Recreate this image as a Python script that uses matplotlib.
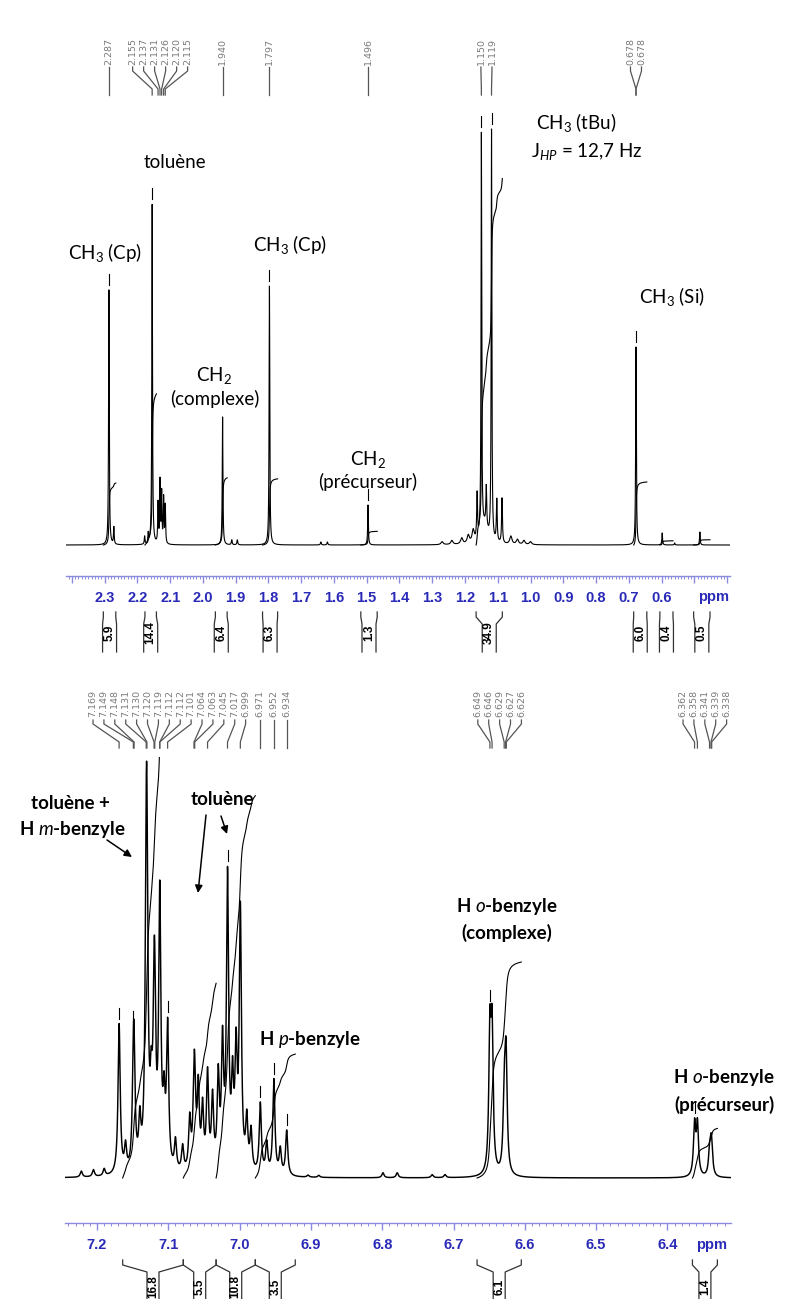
import numpy as np
import matplotlib
matplotlib.use("Agg")
import matplotlib.pyplot as plt
from matplotlib.transforms import Affine2D
from matplotlib.ticker import MultipleLocator

W, H = 788, 1299
plt.rcParams['font.family'] = ['Lato', 'DejaVu Sans']
plt.rcParams['mathtext.fontset'] = 'custom'
plt.rcParams['mathtext.rm'] = 'Lato'
plt.rcParams['mathtext.it'] = 'Lato:italic'
plt.rcParams['mathtext.bf'] = 'Lato:bold'

# ---------------- top spectrum (aliphatic region) ----------------
top_ppm = [2.287, 2.272, 2.178, 2.167, 2.155, 2.137, 2.131, 2.126, 2.120, 2.115,
           1.940, 1.912, 1.895, 1.797, 1.640, 1.620, 1.496, 1.270, 1.240, 1.210,
           1.190, 1.175, 1.163, 1.150, 1.140, 1.135, 1.119, 1.103, 1.087, 1.060,
           1.040, 1.020, 1.000, 0.678, 0.598, 0.560, 0.483]
top_height = [255, 17, 8, 10, 340, 40, 62, 50, 45, 38,
              128, 5, 5, 259, 3, 3, 40, 3, 4, 6,
              8, 12, 45, 400, 18, 40, 410, 42, 45, 8,
              5, 4, 3, 198, 12, 2, 13]
top_width = [0.0012, 0.0012, 0.0012, 0.0012, 0.0012, 0.0012, 0.0012, 0.0012, 0.0012, 0.0012,
             0.0012, 0.0015, 0.0015, 0.0012, 0.0015, 0.0015, 0.0012, 0.004, 0.004, 0.004,
             0.004, 0.004, 0.0015, 0.0012, 0.012, 0.0015, 0.0012, 0.0015, 0.0015, 0.004,
             0.004, 0.004, 0.004, 0.0012, 0.0012, 0.0012, 0.0012]
top_pick = ['2.287', '2.155', '2.137', '2.131', '2.126', '2.120', '2.115',
            '1.940', '1.797', '1.496', '1.150', '1.119', '0.678', '0.678']
top_markers = [2.287, 2.155, 1.797, 1.496, 1.150, 1.119, 0.678]
top_int_hi = [2.304, 2.177, 1.962, 1.818, 1.518, 1.166, 0.685, 0.605, 0.502]
top_int_lo = [2.266, 2.142, 1.926, 1.772, 1.468, 1.086, 0.645, 0.565, 0.452]
top_int_val = [5.9, 14.4, 6.4, 6.3, 1.3, 34.9, 6.0, 0.4, 0.5]
top_ticklabels = [2.3, 2.2, 2.1, 2.0, 1.9, 1.8, 1.7, 1.6, 1.5, 1.4, 1.3, 1.2,
                  1.1, 1.0, 0.9, 0.8, 0.7, 0.6]

# ---------------- bottom spectrum (aromatic region) ----------------
bot_ppm = [7.222, 7.205, 7.190, 7.169, 7.160, 7.149, 7.148, 7.140, 7.131, 7.130,
           7.124, 7.120, 7.119, 7.112, 7.106, 7.101, 7.090, 7.080, 7.070, 7.064,
           7.063, 7.058, 7.052, 7.045, 7.038, 7.030, 7.024, 7.017, 7.010, 7.005,
           6.999, 6.990, 6.984, 6.971, 6.962, 6.952, 6.943, 6.934, 6.904, 6.889,
           6.799, 6.779, 6.730, 6.712, 6.649, 6.646, 6.629, 6.627, 6.626, 6.362,
           6.358, 6.341, 6.339, 6.338]
bot_height = [6, 7, 7, 150, 25, 80, 80, 45, 215, 215,
              60, 110, 110, 270, 60, 140, 30, 25, 50, 60,
              60, 80, 60, 95, 70, 90, 120, 290, 80, 110,
              258, 50, 40, 70, 30, 95, 25, 45, 2, 2,
              5, 5, 3, 3, 135, 135, 63, 63, 63, 51,
              51, 20, 20, 20]
bot_linewidth = 0.0018
bot_pick = ['7.169', '7.149', '7.148', '7.131', '7.130', '7.120', '7.119', '7.112',
            '7.112', '7.101', '7.064', '7.063', '7.045', '7.017', '6.999', '6.971',
            '6.952', '6.934', '6.649', '6.646', '6.629', '6.627', '6.626',
            '6.362', '6.358', '6.341', '6.339', '6.338']
bot_markers = [7.169, 7.149, 7.101, 7.017, 6.971, 6.952, 6.934, 6.649, 6.362]
bot_int_hi = [7.164, 7.079, 7.033, 6.978, 6.667, 6.365]
bot_int_lo = [7.079, 7.033, 6.978, 6.922, 6.605, 6.330]
bot_int_val = [16.8, 5.5, 10.8, 3.5, 6.1, 1.4]
bot_ticklabels = [7.2, 7.1, 7.0, 6.9, 6.8, 6.7, 6.6, 6.5, 6.4]

AX_COL = '#8a8ae0'
LAB_COL = '#2a2ab8'
PICK_COL = '#7a7a7a'

fig = plt.figure(figsize=(W / 100, H / 100), dpi=100)
fig.patch.set_facecolor('white')
# pixel transform: (x px from left, y px from top) -> display
P = Affine2D().scale(1.0 / W, -1.0 / H).translate(0, 1) + fig.transFigure


def add_axes_px(x0, x1, ytop, ybot):
    return fig.add_axes([x0 / W, 1 - ybot / H, (x1 - x0) / W, (ybot - ytop) / H])


def lorentz_sum(x, ppm, h, w):
    y = np.zeros_like(x)
    w = np.broadcast_to(np.asarray(w, float), (len(ppm),))
    for p, hh, ww in zip(ppm, h, w):
        y += hh / (1 + ((x - p) / ww) ** 2)
    return y


def spread(targets, s):
    order = np.argsort(targets)
    t = np.asarray(targets, float)[order]
    clusters = [[i] for i in range(len(t))]

    def place(c):
        m = t[c].mean()
        n = len(c)
        return [m + (k - (n - 1) / 2) * s for k in range(n)]

    merged = True
    while merged:
        merged = False
        for j in range(len(clusters) - 1):
            a = place(clusters[j])
            b = place(clusters[j + 1])
            if b[0] - a[-1] < s - 1e-6:
                clusters[j] = clusters[j] + clusters[j + 1]
                del clusters[j + 1]
                merged = True
                break
    pos_sorted = []
    for c in clusters:
        pos_sorted += place(c)
    out = np.empty(len(t))
    out[order] = pos_sorted
    return out


def style_axis(ax, xlim, ticklabels, ytop_data):
    ax.set_xlim(*xlim)
    ax.set_ylim(0, ytop_data)
    for s in ['top', 'left', 'right']:
        ax.spines[s].set_visible(False)
    ax.spines['bottom'].set_color(AX_COL)
    ax.spines['bottom'].set_linewidth(1.0)
    ax.set_yticks([])
    lo, hi = min(xlim), max(xlim)
    majors = np.round(np.arange(np.ceil(lo * 10) / 10, hi + 1e-9, 0.1), 2)
    labs = ['%.1f' % v if any(abs(v - t) < 1e-6 for t in ticklabels) else '' for v in majors]
    ax.set_xticks(majors, labs, fontweight='bold', fontfamily='Liberation Sans',
                  fontsize=10.5, color=LAB_COL)
    ax.xaxis.set_minor_locator(MultipleLocator(0.01))
    ax.tick_params(axis='x', which='major', length=5, width=1.0, color=AX_COL,
                   direction='out', pad=6)
    ax.tick_params(axis='x', which='minor', length=2.5, width=0.7, color=AX_COL,
                   direction='out')
    ax.patch.set_alpha(0)


def draw_panel(ax, ppm, h, w, base, int_hi, int_lo, int_val, int_scale, markers, lw):
    x0, x1 = ax.get_xlim()
    x = np.linspace(x0, x1, 60000)
    y = lorentz_sum(x, ppm, h, w)
    ax.plot(x, base + y, color='black', lw=lw)
    # integrals
    for hi, lo, v in zip(int_hi, int_lo, int_val):
        m = (x <= hi) & (x >= lo)
        c = np.cumsum(y[m])
        c = c / c[-1] * v * int_scale
        ax.plot(x[m], base + c, color='black', lw=0.8)
    # peak-pick markers
    for p in markers:
        tip = base + np.interp(p, x[::-1], y[::-1])
        ax.plot([p, p], [tip + 5, tip + 16], color='black', lw=0.8)
    return x, y


def pick_labels(ax, ppm_texts, y_txt, y_a, y_b, y_c, y_d, spacing=10.9):
    vals = [float(t) for t in ppm_texts]
    tx = ax.transData.transform(np.c_[vals, np.zeros(len(vals))])[:, 0]
    lx = spread(tx, spacing)
    for t, xt, xl in zip(ppm_texts, tx, lx):
        fig.text(xl, y_txt, t, transform=P, rotation=90, ha='center', va='bottom',
                 fontsize=6.8, color=PICK_COL, family='DejaVu Sans')
        fig.add_artist(plt.Line2D([xl, xl, xt, xt], [y_a, y_b, y_c, y_d], transform=P,
                                  color='#555555', lw=0.9))


def int_brackets(ax, hi_list, lo_list, vals, y0, ybot, ylab, bw=7):
    for hi, lo, v in zip(hi_list, lo_list, vals):
        xa = ax.transData.transform((hi, 0))[0]
        xb = ax.transData.transform((lo, 0))[0]
        xc = (xa + xb) / 2
        for xe, xbox in [(xa, xc - bw), (xb, xc + bw)]:
            fig.add_artist(plt.Line2D([xe, xe, xbox, xbox], [y0, y0 + 5, y0 + 12, ybot],
                                      transform=P, color='#333333', lw=0.9))
        fig.text(xc, ylab, '%.1f' % v, transform=P, rotation=90, ha='center',
                 va='center', fontsize=8.5, fontweight='bold', family='Liberation Sans')


# ================= TOP PANEL =================
ax1 = add_axes_px(66, 730, 100, 576)
style_axis(ax1, (2.418, 0.391), top_ticklabels, 476)
draw_panel(ax1, top_ppm, top_height, top_width, 31, top_int_hi, top_int_lo,
           top_int_val, 10.5, top_markers, 0.8)
fig.text(714, 597, 'ppm', transform=P, ha='center', va='center', fontsize=10.5,
         fontweight='bold', family='Liberation Sans', color=LAB_COL)
pick_labels(ax1, top_pick, 65, 67, 71, 89, 95, spacing=11)
int_brackets(ax1, top_int_hi, top_int_lo, top_int_val, 612, 652, 633)

tk = dict(transform=P, ha='center', va='center', fontsize=13.5)
fig.text(175, 162, 'toluène', **tk)
fig.text(105, 252, 'CH$_3$ (Cp)', **tk)
fig.text(290, 245, 'CH$_3$ (Cp)', **tk)
fig.text(214, 375, 'CH$_2$', **tk)
fig.text(215, 399, '(complexe)', **tk)
fig.text(368, 459, 'CH$_2$', **tk)
fig.text(368, 482, '(précurseur)', **tk)
fig.text(576, 123, 'CH$_3$ (tBu)', **tk)
fig.text(587, 152, 'J$_{HP}$ = 12,7 Hz', **tk)
fig.text(672, 297, 'CH$_3$ (Si)', **tk)

# ================= BOTTOM PANEL =================
ax2 = add_axes_px(65, 731, 757, 1223)
style_axis(ax2, (7.2449, 6.3109), bot_ticklabels, 466)
draw_panel(ax2, bot_ppm, bot_height, bot_linewidth, 45, bot_int_hi, bot_int_lo,
           bot_int_val, 35.4, bot_markers, 1.05)
fig.text(712, 1245, 'ppm', transform=P, ha='center', va='center', fontsize=10.5,
         fontweight='bold', family='Liberation Sans', color=LAB_COL)
pick_labels(ax2, bot_pick, 717, 720, 724, 742, 748)
int_brackets(ax2, bot_int_hi, bot_int_lo, bot_int_val, 1260, 1300, 1287, bw=6)

tb = dict(transform=P, ha='center', va='center', fontsize=13.5, fontweight='bold')
fig.text(70, 804, 'toluène +', **tb)
fig.text(72, 830, 'H $\\mathit{m}$-benzyle', **tb)
fig.text(222, 800, 'toluène', **tb)
fig.text(310, 1040, 'H $\\mathit{p}$-benzyle', **tb)
fig.text(507, 907, 'H $\\mathit{o}$-benzyle', **tb)
fig.text(507, 933, '(complexe)', **tb)
fig.text(724, 1078, 'H $\\mathit{o}$-benzyle', **tb)
fig.text(725, 1105, '(précurseur)', **tb)

arr = dict(arrowstyle='-|>', lw=1.1, color='black', mutation_scale=11,
           shrinkA=0, shrinkB=0)
for (xa, ya), (xb, yb) in [((107, 840), (132, 857)), ((206, 815), (198, 893)),
                           ((221, 816), (227, 834))]:
    ax2.annotate('', xy=(xb, yb), xytext=(xa, ya), xycoords=P, textcoords=P,
                 arrowprops=arr, annotation_clip=False)

fig.savefig('out.png', dpi=100)
